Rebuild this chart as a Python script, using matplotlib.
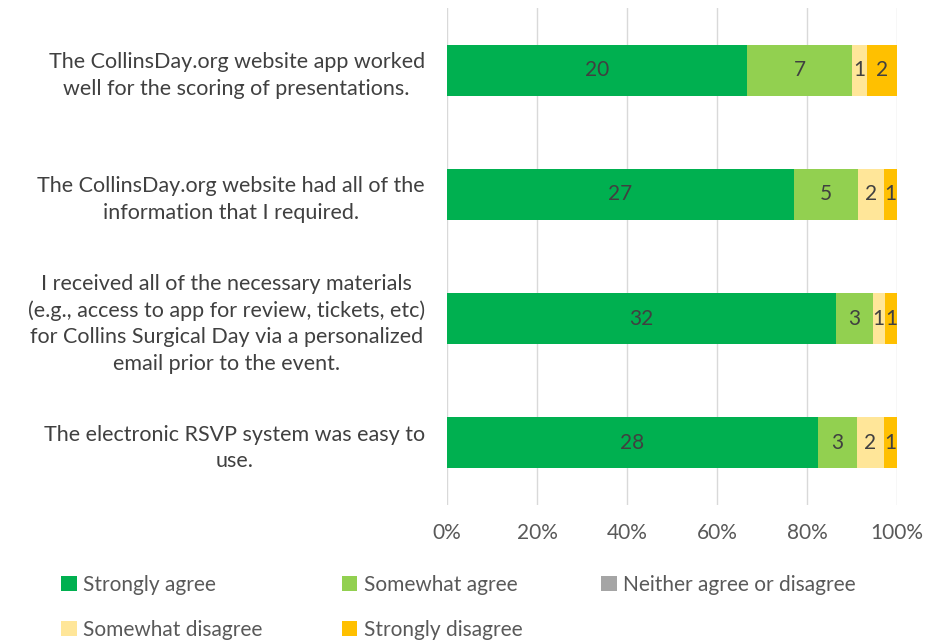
import matplotlib
matplotlib.use('Agg')
import matplotlib.pyplot as plt
import numpy as np

plt.rcParams['font.family'] = ['Lato', 'DejaVu Sans']

# data (top to bottom)
questions = [
    'The CollinsDay.org website app worked\nwell for the scoring of presentations.',
    'The CollinsDay.org website had all of the\ninformation that I required.',
    'I received all of the necessary materials\n(e.g., access to app for review, tickets, etc)\nfor Collins Surgical Day via a personalized\nemail prior to the event.',
    'The electronic RSVP system was easy to\nuse.',
]
series = ['Strongly agree', 'Somewhat agree', 'Neither agree or disagree',
          'Somewhat disagree', 'Strongly disagree']
strongly_agree = [20, 27, 32, 28]
somewhat_agree = [7, 5, 3, 3]
neither = [0, 0, 0, 0]
somewhat_disagree = [1, 2, 1, 2]
strongly_disagree = [2, 1, 1, 1]
colors = ['#00B050', '#92D050', '#A5A5A5', '#FFE699', '#FFC000']

counts = np.array([strongly_agree, somewhat_agree, neither,
                   somewhat_disagree, strongly_disagree], dtype=float)
totals = counts.sum(axis=0)
shares = counts / totals

fig = plt.figure(figsize=(9.25, 6.42), dpi=100)
ax = fig.add_axes([0.4832, 0.2134, 0.4865, 0.7741])

y = np.arange(len(questions))[::-1]
left = np.zeros(len(questions))
for i, name in enumerate(series):
    ax.barh(y, shares[i], left=left, height=0.41, color=colors[i],
            label=name, zorder=2)
    for j in range(len(questions)):
        if counts[i, j] > 0:
            ax.text(left[j] + shares[i, j] / 2, y[j], f'{int(counts[i, j])}',
                    ha='center', va='center', fontsize=15, color='#404040', zorder=3)
    left += shares[i]

ax.set_xlim(0, 1)
ax.set_ylim(-0.5, 3.5)
ax.set_xticks(np.linspace(0, 1, 6))
ax.set_xticklabels([f'{int(v)}%' for v in np.linspace(0, 100, 6)])
ax.set_yticks(y)
ax.set_yticklabels(questions, fontsize=15.5, color='#404040', ha='right',
                   multialignment='center', linespacing=1.4)
ax.tick_params(axis='y', length=0, pad=16)
ax.tick_params(axis='x', length=0, labelsize=15, labelcolor='#595959', pad=13)
ax.grid(axis='x', color='#D9D9D9', linewidth=1, zorder=0)
for s in ax.spines.values():
    s.set_visible(False)

# legend filled row by row like the original
handles, labels = ax.get_legend_handles_labels()
order = [0, 3, 1, 4, 2]
fig.legend([handles[k] for k in order], [labels[k] for k in order], ncol=3,
           loc='lower left', bbox_to_anchor=(0.046, -0.026),
           frameon=False, fontsize=15, labelcolor='#595959', handlelength=0.75,
           handleheight=0.75, handletextpad=0.3, columnspacing=3.8, labelspacing=1.2)

fig.savefig('out.png', dpi=100)
